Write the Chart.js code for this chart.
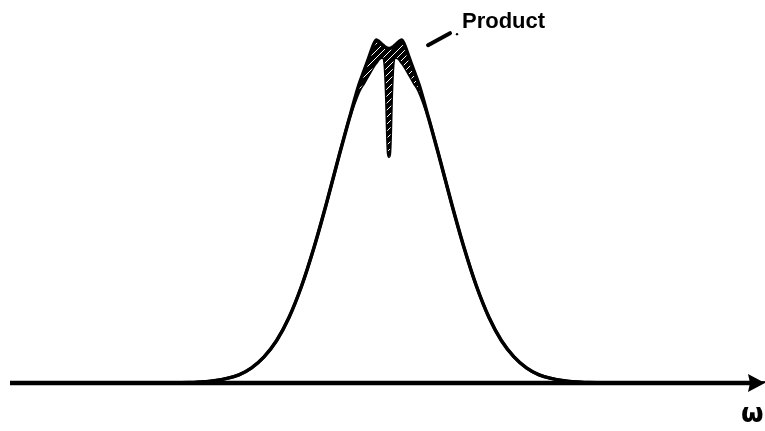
<!DOCTYPE html>
<html>
<head>
<meta charset="utf-8">
<script src="https://cdn.jsdelivr.net/npm/chart.js@4"></script>
<style>
html,body{margin:0;padding:0;background:#fff;}
#wrap{width:765px;height:431px;}
</style>
</head>
<body>
<div id="wrap"><canvas id="c" width="765" height="431"></canvas></div>
<script>
// frequency axis (omega, arbitrary units)
const omega = [-7.58,-5,-4.5,-4,-3.5,-3,-2.75,-2.5,-2.25,-2,-1.75,-1.5,-1.25,-1,-0.8,-0.6,-0.5,-0.4,-0.3,-0.25,-0.2,-0.12,-0.08,-0.05,-0.03,-0.015,0,
               0.015,0.03,0.05,0.08,0.12,0.2,0.25,0.3,0.4,0.5,0.6,0.8,1,1.25,1.5,1.75,2,2.25,2.5,2.75,3,3.5,4,4.5,5,7.52];
// outer spectrum (envelope)
const spectrum = [0,0,0.0002,0.0013,0.0063,0.024,0.044,0.076,0.123,0.191,0.282,0.395,0.524,0.662,0.768,0.87,0.91,0.95,0.99,1.0,0.995,0.985,0.98,0.977,0.976,0.975,0.975,
                  0.975,0.976,0.977,0.98,0.985,0.995,1.0,0.99,0.95,0.91,0.87,0.768,0.662,0.524,0.395,0.282,0.191,0.123,0.076,0.044,0.024,0.0063,0.0013,0.0002,0,0];
// product curve (with narrow notch at centre)
const product = [0,0,0.0002,0.0013,0.0063,0.024,0.044,0.076,0.123,0.191,0.282,0.395,0.524,0.662,0.768,0.85,0.875,0.9,0.925,0.935,0.945,0.95,0.925,0.83,0.72,0.67,0.66,
                 0.67,0.72,0.83,0.925,0.95,0.945,0.935,0.925,0.9,0.875,0.85,0.768,0.662,0.524,0.395,0.282,0.191,0.123,0.076,0.044,0.024,0.0063,0.0013,0.0002,0,0];
const labels = { curve: "Product", axis: "ω" };

function hatch(){
  const c = document.createElement('canvas'); c.width = 7; c.height = 7;
  const x = c.getContext('2d');
  x.fillStyle = '#000'; x.fillRect(0,0,7,7);
  x.strokeStyle = '#fff'; x.lineWidth = 1;
  x.beginPath(); x.moveTo(0,7); x.lineTo(7,0); x.stroke();
  return x.createPattern(c,'repeat');
}

const deco = {
  id: 'deco',
  afterDatasetsDraw(chart){
    const ctx = chart.ctx, xs = chart.scales.x, ys = chart.scales.y;
    const y0 = ys.getPixelForValue(0);
    ctx.save();
    // axis with arrow
    ctx.strokeStyle = '#000'; ctx.fillStyle = '#000'; ctx.lineWidth = 4.5;
    ctx.beginPath(); ctx.moveTo(xs.getPixelForValue(-7.58), y0); ctx.lineTo(xs.getPixelForValue(7.25), y0); ctx.stroke();
    const tip = xs.getPixelForValue(7.52);
    ctx.beginPath(); ctx.moveTo(tip, y0); ctx.lineTo(tip-17, y0-9); ctx.lineTo(tip-15, y0); ctx.lineTo(tip-17, y0+9); ctx.closePath(); ctx.fill();
    // omega label
    ctx.font = 'bold 26px "DejaVu Sans", sans-serif';
    ctx.textBaseline = 'alphabetic'; ctx.textAlign = 'left';
    ctx.fillText(labels.axis, xs.getPixelForValue(7.04), y0 + 39);
    // leader line
    ctx.lineWidth = 4; ctx.lineCap = 'round';
    ctx.beginPath(); ctx.moveTo(xs.getPixelForValue(0.78), ys.getPixelForValue(0.985)); ctx.lineTo(xs.getPixelForValue(1.22), ys.getPixelForValue(1.02)); ctx.stroke();
    ctx.beginPath(); ctx.arc(xs.getPixelForValue(1.36), ys.getPixelForValue(1.017), 1.2, 0, Math.PI*2); ctx.fill();
    // product label
    ctx.font = 'bold 22px "Liberation Sans", Arial, sans-serif';
    ctx.fillText(labels.curve, xs.getPixelForValue(1.46), ys.getPixelForValue(1.035));
    ctx.restore();
  }
};

new Chart(document.getElementById('c'), {
  type: 'line',
  data: {
    datasets: [
      { data: omega.map((w,i)=>({x:w,y:spectrum[i]})), borderColor:'#000', borderWidth:3.5, pointRadius:0,
        cubicInterpolationMode:'monotone', fill:'+1', backgroundColor: hatch() },
      { data: omega.map((w,i)=>({x:w,y:product[i]})), borderColor:'#000', borderWidth:3, pointRadius:0,
        cubicInterpolationMode:'monotone', fill:false }
    ]
  },
  options: {
    responsive:false, animation:false,
    layout:{ padding:{ left:0, right:0, top:0, bottom:48 } },
    plugins:{ legend:{display:false}, tooltip:{enabled:false} },
    scales:{
      x:{ type:'linear', min:-7.78, max:7.52, display:false },
      y:{ min:0, max:1.1166, display:false }
    }
  },
  plugins:[deco]
});
</script>
</body>
</html>
